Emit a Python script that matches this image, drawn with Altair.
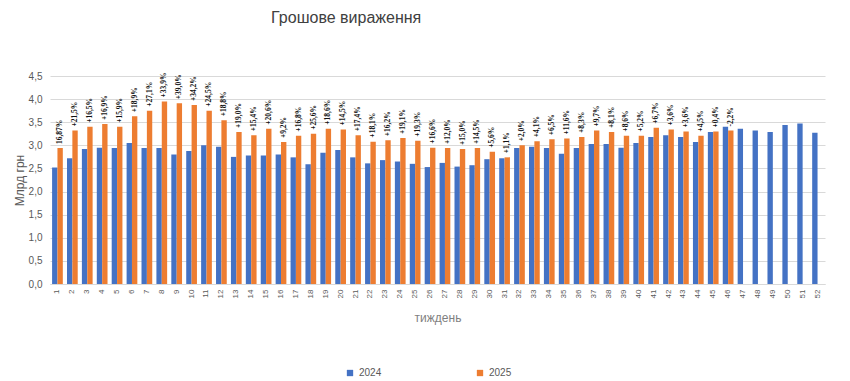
import altair as alt
import pandas as pd

weeks = list(range(1, 53))
v2024 = [2.52, 2.72, 2.92, 2.95, 2.94, 3.05, 2.94, 2.94, 2.80, 2.88,
         3.00, 2.97, 2.75, 2.78, 2.78, 2.80, 2.74, 2.59, 2.84, 2.90,
         2.74, 2.61, 2.68, 2.65, 2.60, 2.53, 2.62, 2.54, 2.57, 2.70,
         2.72, 2.94, 2.97, 2.94, 2.82, 2.94, 3.03, 3.03, 2.95, 3.05,
         3.18, 3.22, 3.18, 3.07, 3.29, 3.40, 3.36, 3.32, 3.29, 3.44,
         3.47, 3.27]
v2025 = [2.94, 3.32, 3.40, 3.46, 3.40, 3.63, 3.75, 3.95, 3.91, 3.87,
         3.75, 3.54, 3.29, 3.22, 3.36, 3.07, 3.21, 3.25, 3.36, 3.34,
         3.22, 3.08, 3.11, 3.16, 3.10, 2.95, 2.94, 2.92, 2.94, 2.86,
         2.74, 3.00, 3.09, 3.13, 3.15, 3.18, 3.32, 3.29, 3.21, 3.21,
         3.38, 3.34, 3.30, 3.21, 3.30, 3.32]
labels2025 = ["16,87%", "+21,5%", "+16,5%", "+16,9%", "+15,9%", "+18,9%", "+27,1%", "+33,9%",
              "+39,0%", "+34,2%", "+24,5%", "+18,8%", "+19,0%", "+15,4%", "+20,6%", "+9,2%",
              "+16,8%", "+25,6%", "+18,6%", "+14,5%", "+17,4%", "+18,1%", "+16,2%", "+19,1%",
              "+19,3%", "+16,6%", "+12,0%", "+15,0%", "+14,5%", "+5,6%", "+1,1%", "+2,0%",
              "+4,1%", "+6,5%", "+11,6%", "+8,3%", "+9,7%", "+8,1%", "+8,6%", "+5,2%",
              "+6,7%", "+3,6%", "+3,6%", "+4,5%", "+0,4%", "-2,2%"]
y_ticks = [0, 0.5, 1, 1.5, 2, 2.5, 3, 3.5, 4, 4.5]

rows = []
for i, w in enumerate(weeks):
    rows.append({"week": w, "year": "2024", "value": v2024[i], "label": ""})
    if i < len(v2025):
        rows.append({"week": w, "year": "2025", "value": v2025[i], "label": labels2025[i]})
df = pd.DataFrame(rows)

font = "Liberation Sans"

x_enc = alt.X("week:O", sort=weeks,
              scale=alt.Scale(paddingInner=0.28, paddingOuter=0.14),
              axis=alt.Axis(title="тиждень", labelAngle=-90, labelAlign="right",
                            labelBaseline="middle", labelFontSize=8, labelColor="#595959",
                            labelPadding=5, ticks=False, domainColor="#d9d9d9",
                            titleColor="#7f7f7f", titleFontSize=12, titleFontWeight="normal",
                            titlePadding=15, titleFont=font, labelFont=font, grid=False))

y_enc = alt.Y("value:Q", scale=alt.Scale(domain=[0, 4.5], nice=False),
              axis=alt.Axis(title="Млрд грн", values=y_ticks, tickCount=10,
                            labelExpr="replace(format(datum.value, '.1f'), '.', ',')",
                            labelOverlap=False,
                            labelFontSize=10, labelColor="#595959", labelPadding=8,
                            ticks=False, domain=False, gridColor="#d9d9d9",
                            titleColor="#595959", titleFontSize=12, titleFontWeight="normal",
                            titlePadding=2, titleFont=font, labelFont=font))

xoff = alt.XOffset("year:N", scale=alt.Scale(domain=["2024", "2025"]))

bars = alt.Chart(df).mark_bar().encode(
    x=x_enc,
    xOffset=xoff,
    y=y_enc,
    color=alt.Color("year:N", scale=alt.Scale(domain=["2024", "2025"], range=["#4472C4", "#ED7D31"]),
                    legend=alt.Legend(title=None, orient="none", legendX=295, legendY=292,
                                      direction="horizontal", columns=2, columnPadding=93,
                                      symbolType="square", symbolSize=40, labelFontSize=10,
                                      labelColor="#595959", labelFont=font, symbolStrokeWidth=0)),
)

text = alt.Chart(df[df["year"] == "2025"]).mark_text(
    angle=270, align="left", baseline="middle", dx=4, fontSize=7.5, fontWeight="bold",
    color="#111111", font="Liberation Sans Narrow"
).encode(
    x=x_enc,
    xOffset=xoff,
    y=y_enc,
    text="label:N",
)

chart = alt.layer(bars, text).properties(
    width=775, height=208,
    autosize=alt.AutoSizeParams(type="none"),
    padding={"left": 42, "top": 68, "right": 10, "bottom": 105},
    title=alt.TitleParams("Грошове вираження", anchor="start", dx=258, offset=45,
                          fontSize=16, fontWeight="normal", color="#404040", font=font),
).configure_view(stroke=None)

chart.save("out.html", embed_options={"renderer": "svg", "actions": False})
